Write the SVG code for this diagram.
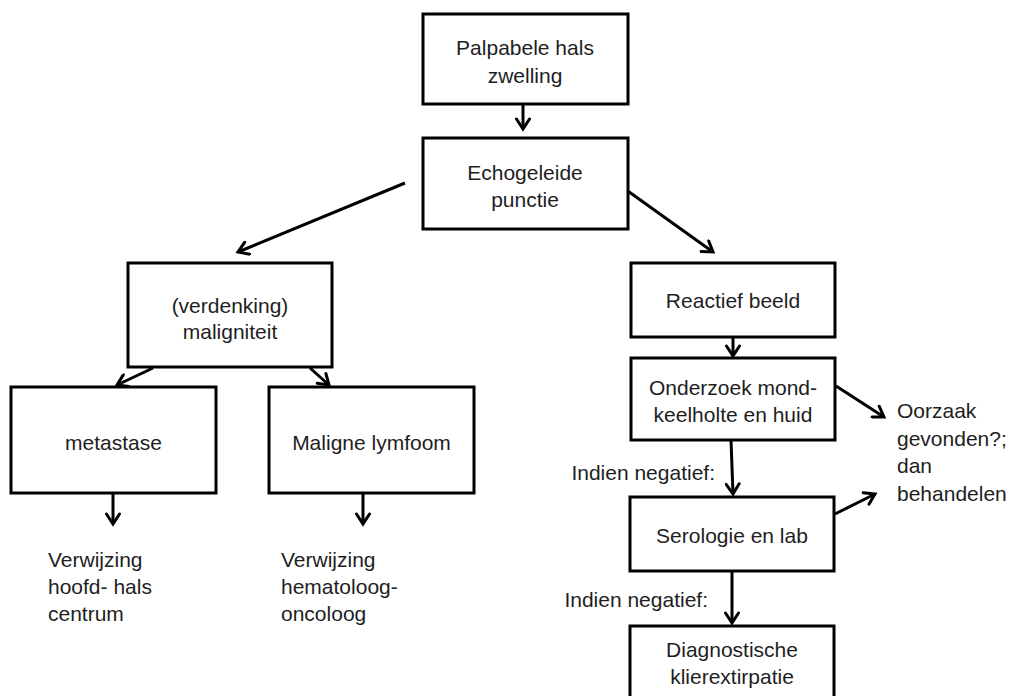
<svg xmlns="http://www.w3.org/2000/svg" width="1011" height="696" viewBox="0 0 1011 696">
<defs>
<style>
.box{fill:#fff;stroke:#000;stroke-width:3}
.t{font-family:"Liberation Sans",Arial,sans-serif;font-size:21px;fill:#1e1e1e}
.c{text-anchor:middle}
.ln{fill:none;stroke:#000;stroke-width:3;marker-end:url(#ah)}
</style>
<marker id="ah" markerUnits="userSpaceOnUse" viewBox="0 0 16 16" markerWidth="16" markerHeight="16" refX="13" refY="8" orient="auto">
<path d="M3,1.5 L13,8 L3,14.5" fill="none" stroke="#000" stroke-width="3" stroke-linecap="round" stroke-linejoin="miter"/>
</marker>
</defs>
<rect width="1011" height="696" fill="#fff"/>
<g id="connectors">
<line class="ln" x1="523" y1="104" x2="523" y2="129"/>
<line class="ln" x1="405" y1="183" x2="238" y2="252"/>
<line class="ln" x1="618" y1="184" x2="713" y2="252"/>
<line class="ln" x1="153" y1="368" x2="117" y2="385"/>
<line class="ln" x1="310" y1="368" x2="329" y2="385"/>
<line class="ln" x1="113" y1="493" x2="113" y2="524"/>
<line class="ln" x1="363" y1="493" x2="363" y2="524"/>
<line class="ln" x1="733" y1="337" x2="733" y2="356"/>
<line class="ln" x1="836" y1="386" x2="884" y2="417"/>
<line class="ln" x1="731" y1="440" x2="733" y2="494"/>
<line class="ln" x1="835" y1="514" x2="875" y2="494"/>
<line class="ln" x1="732" y1="571" x2="732" y2="623"/>
</g>
<g id="n1"><rect class="box" x="423" y="14" width="205" height="90"/><text class="t c" x="525" y="55">Palpabele hals</text><text class="t c" x="525" y="83">zwelling</text></g>
<g id="n2"><rect class="box" x="423" y="138" width="205" height="91"/><text class="t c" x="525" y="180">Echogeleide</text><text class="t c" x="525" y="207">punctie</text></g>
<g id="n3"><rect class="box" x="128" y="263" width="204" height="104"/><text class="t c" x="230" y="313">(verdenking)</text><text class="t c" x="230" y="339">maligniteit</text></g>
<g id="n4"><rect class="box" x="11" y="387" width="205" height="106"/><text class="t c" x="113.5" y="450">metastase</text></g>
<g id="n5"><rect class="box" x="269" y="387" width="205" height="106"/><text class="t c" x="371.5" y="450">Maligne lymfoom</text></g>
<g id="n6"><text class="t" x="48" y="567">Verwijzing</text><text class="t" x="48" y="594">hoofd- hals</text><text class="t" x="48" y="621">centrum</text></g>
<g id="n7"><text class="t" x="281" y="567">Verwijzing</text><text class="t" x="281" y="594">hematoloog-</text><text class="t" x="281" y="621">oncoloog</text></g>
<g id="n8"><rect class="box" x="631" y="263" width="204" height="74"/><text class="t c" x="733" y="308">Reactief beeld</text></g>
<g id="n9"><rect class="box" x="631" y="358" width="204" height="82"/><text class="t c" x="733" y="395">Onderzoek mond-</text><text class="t c" x="733" y="422">keelholte en huid</text></g>
<g id="n10"><text class="t" x="897" y="418">Oorzaak</text><text class="t" x="897" y="446">gevonden?;</text><text class="t" x="897" y="473">dan</text><text class="t" x="897" y="501">behandelen</text></g>
<g id="n11"><rect class="box" x="630" y="497" width="204" height="74"/><text class="t c" x="732" y="543">Serologie en lab</text></g>
<g id="n12"><rect class="box" x="630" y="626" width="204" height="80"/><text class="t c" x="732" y="657">Diagnostische</text><text class="t c" x="732" y="684">klierextirpatie</text></g>
<g id="labels"><text class="t" x="715" y="480" text-anchor="end">Indien negatief:</text><text class="t" x="708" y="607" text-anchor="end">Indien negatief:</text></g>
</svg>
